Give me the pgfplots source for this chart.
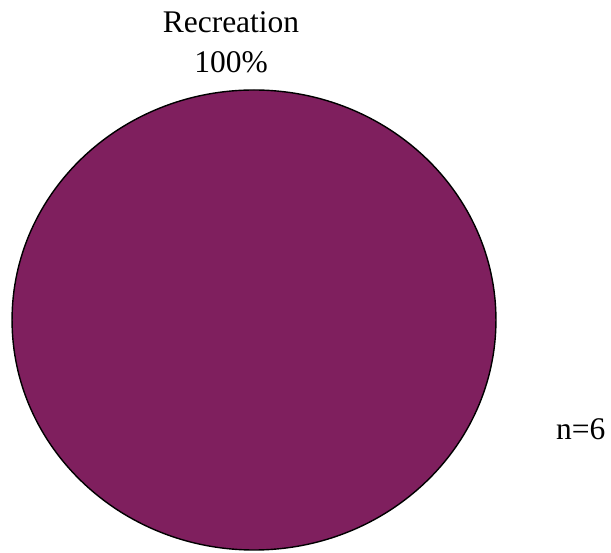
\documentclass[border=0pt]{standalone}
\usepackage{fontspec}
\setmainfont{Liberation Serif}
\usepackage{pgfplots}
\pgfplotsset{compat=1.18}
\definecolor{piecol}{RGB}{127,31,94}
\begin{document}
\begin{tikzpicture}
\begin{axis}[
  width=611bp, height=553bp, scale only axis,
  xmin=0, xmax=611, ymin=0, ymax=553,
  axis line style={draw=none}, ticks=none,
  clip=false,
]
% single category: Recreation = 100% (n=6), drawn as a full pie
\addplot[only marks, mark=*, mark size=230bp,
  mark options={xscale=1.052, fill=piecol, draw=black, line width=1.4bp}]
  coordinates {(254,233)};
\node[anchor=base, inner sep=0pt, font=\fontsize{31.5bp}{36bp}\selectfont] at (axis cs:231,520) {Recreation};
\node[anchor=base, inner sep=0pt, font=\fontsize{31.5bp}{36bp}\selectfont] at (axis cs:231,480) {100\%};
\node[anchor=base west, inner sep=0pt, font=\fontsize{31.5bp}{36bp}\selectfont] at (axis cs:556,113) {n=6};
\end{axis}
\end{tikzpicture}
\end{document}
